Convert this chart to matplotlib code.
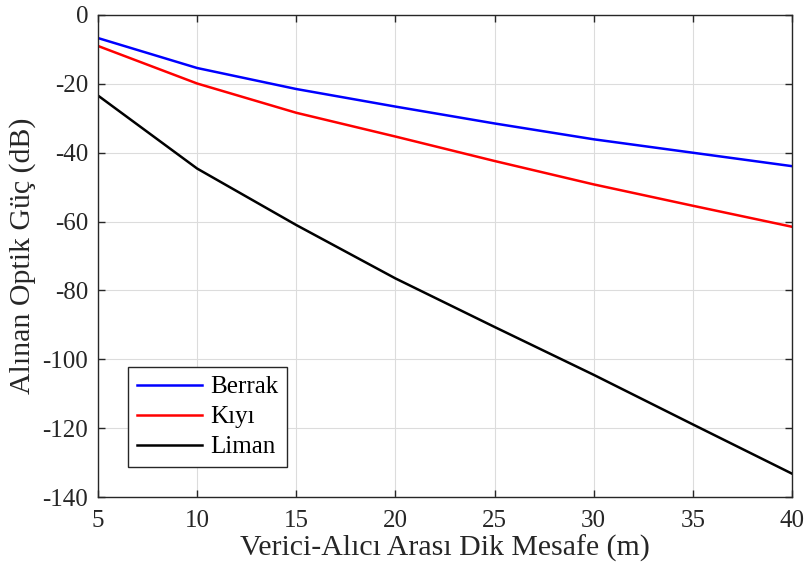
import matplotlib
matplotlib.use("Agg")
import matplotlib.pyplot as plt

# Veriler
mesafe = [5, 10, 15, 20, 25, 30, 35, 40]
berrak = [-6.7, -15.4, -21.5, -26.6, -31.5, -36.1, -40.0, -43.9]
kiyi = [-9.0, -19.9, -28.4, -35.3, -42.4, -49.2, -55.4, -61.5]
liman = [-23.4, -44.6, -61.0, -76.5, -90.6, -104.5, -118.9, -133.2]

plt.rcParams["font.family"] = ["Liberation Serif", "DejaVu Serif"]
plt.rcParams["axes.unicode_minus"] = False

fig = plt.figure(figsize=(8.06, 5.72), dpi=100)
ax = fig.add_axes([0.1216, 0.131, 0.861, 0.8428])

ax.plot(mesafe, berrak, color="#0000ff", lw=1.8, label="Berrak")
ax.plot(mesafe, kiyi, color="#ff0000", lw=1.8, label="Kıyı")
ax.plot(mesafe, liman, color="#000000", lw=1.8, label="Liman")

ax.set_xlim(5, 40)
ax.set_ylim(-140, 0)
ax.set_xticks(range(5, 41, 5))
ax.set_yticks(range(-140, 1, 20))
ax.grid(True, color="#dcdcdc", lw=0.8)
ax.set_axisbelow(True)

for s in ax.spines.values():
    s.set_color("#262626")
    s.set_linewidth(1.0)
ax.tick_params(direction="in", top=True, right=True, length=5, width=1.0,
               colors="#262626", labelsize=18, labelcolor="#262626")
ax.tick_params(axis="x", pad=9)
ax.tick_params(axis="y", pad=7)

ax.set_xlabel("Verici-Alıcı Arası Dik Mesafe (m)", fontsize=21.5, color="#262626", labelpad=2)
ax.set_ylabel("Alınan Optik Güç (dB)", fontsize=21.5, color="#262626", labelpad=5)

leg = ax.legend(loc="lower left", bbox_to_anchor=(0.043, 0.062), borderaxespad=0,
                fontsize=18, fancybox=False, framealpha=1, edgecolor="#262626",
                handlelength=2.6, borderpad=0.35, labelspacing=0.3, handletextpad=0.35)
leg.get_frame().set_linewidth(1.0)

fig.savefig("out.png", dpi=100)
